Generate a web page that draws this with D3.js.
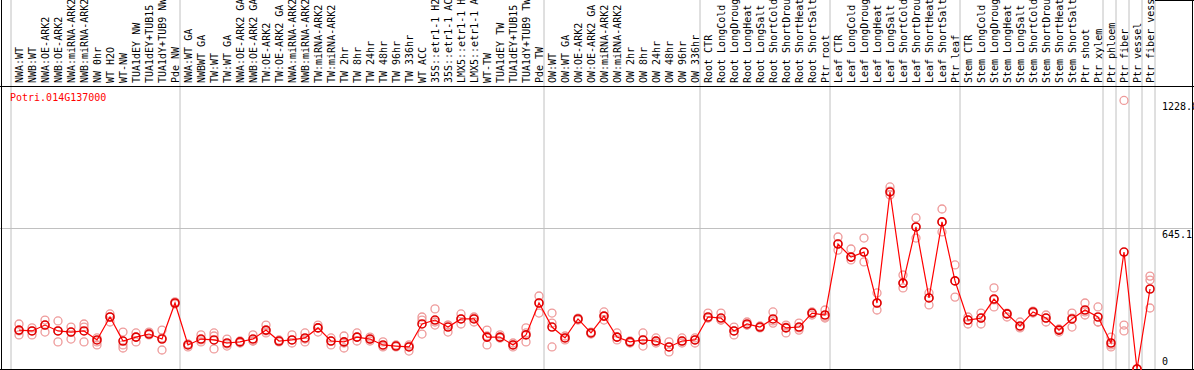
<!DOCTYPE html>
<html>
<head>
<meta charset="utf-8">
<script src="https://cdn.jsdelivr.net/npm/d3@7"></script>
<style>
  body { margin: 0; background: #fff; }
  svg text { font-family: "DejaVu Sans Mono", monospace; font-size: 10px; }
</style>
</head>
<body>
<div class="chart"></div>
<script>
// gene shown in the plot
var geneId = "Potri.014G137000"

// sample names, in plotting order
var sampleLabels = [
  "NWA:WT", "NWB:WT", "NWA:OE-ARK2", "NWB:OE-ARK2", "NWA:miRNA-ARK2", "NWB:miRNA-ARK2",
  "NW 0hr", "WT H2O", "WT-NW", "TUA1dEY NW", "TUA1dEY+TUB15 NW", "TUA1dY+TUB9 NW", "Pde NW",
  "NWA:WT GA", "NWBWT GA", "TW:WT", "TW:WT GA", "NWA:OE-ARK2 GA", "NWB:OE-ARK2 GA",
  "TW:OE-ARK2", "TW:OE-ARK2 GA", "NWA:miRNA-ARK2", "NWB:miRNA-ARK2", "TW:miRNA-ARK2", "TW:miRNA-ARK2",
  "TW 2hr", "TW 8hr", "TW 24hr", "TW 48hr", "TW 96hr", "TW 336hr", "WT ACC",
  "35S::etr1-1 H2O", "35S::etr1-1 ACC", "LMX5::etr1-1 H2O", "LMX5::etr1-1 ACC",
  "WT-TW", "TUA1dEY TW", "TUA1dEY+TUB15 TW", "TUA1dY+TUB9 TW", "Pde TW",
  "OW:WT", "OW:WT GA", "OW:OE-ARK2", "OW:OE-ARK2 GA", "OW:miRNA-ARK2", "OW:miRNA-ARK2",
  "OW 2hr", "OW 8hr", "OW 24hr", "OW 48hr", "OW 96hr", "OW 336hr",
  "Root CTR", "Root LongCold", "Root LongDrought", "Root LongHeat", "Root LongSalt",
  "Root ShortCold", "Root ShortDrought", "Root ShortHeat", "Root ShortSalt", "Ptr root",
  "Leaf CTR", "Leaf LongCold", "Leaf LongDrought", "Leaf LongHeat", "Leaf LongSalt",
  "Leaf ShortCold", "Leaf ShortDrought", "Leaf ShortHeat", "Leaf ShortSalt", "Ptr leaf",
  "Stem CTR", "Stem LongCold", "Stem LongDrought", "Stem LongHeat", "Stem LongSalt",
  "Stem ShortCold", "Stem ShortDrought", "Stem ShortHeat", "Stem ShortSalt", "Ptr shoot", "Ptr xylem",
  "Ptr phloem", "Ptr fiber", "Ptr vessel", "Ptr fiber vessel"
]

// how many samples sit in each block between grey separators
var groupSizes = [13, 28, 12, 10, 10, 11, 1, 1, 1, 1]

// mean expression per sample
var meanValues = [
  178, 174, 201, 174, 169, 174, 133, 238, 128, 146, 160, 137, 302,
  110, 137, 133, 119, 124, 137, 178, 128, 133, 142, 188, 128, 124, 146, 137, 110, 105, 101,
  206, 224, 192, 229, 229, 146, 146, 110, 156, 302,
  192, 142, 229, 165, 242, 146, 124, 133, 128, 101, 128, 133,
  238, 233, 174, 206, 192, 229, 188, 192, 256, 247,
  572, 512, 535, 302, 810, 393, 650, 325, 673, 403,
  224, 233, 320, 252, 197, 261, 233, 178, 229, 270, 238,
  119, 535, 0, 366
]

// replicate values per sample
var repValues = [
  [206, 156, 174], [188, 156, 174], [224, 169, 201], [220, 124, 174], [192, 137, 169],
  [206, 124, 192], [142, 110, 124], [252, 215, 238], [169, 110, 96], [165, 124, 146],
  [169, 156, 165], [178, 142, 87], [307, 297, 302],
  [114, 101, 114], [156, 133, 124], [165, 151, 92], [137, 114, 105], [124, 128, 119],
  [156, 128, 128], [201, 165, 174], [128, 133, 124], [156, 119, 133], [165, 124, 137],
  [201, 169, 188], [128, 110, 142], [119, 96, 151], [165, 128, 146], [137, 146, 128],
  [124, 101, 105], [105, 101, 110], [105, 82, 110], [238, 224, 160], [275, 201, 215],
  [201, 169, 201], [252, 206, 229], [238, 215, 233], [178, 110, 151], [156, 142, 142],
  [119, 101, 110], [188, 124, 165], [334, 256, 302],
  [256, 210, 101], [151, 133, 142], [229, 233, 224], [169, 160, 165], [261, 242, 224],
  [165, 133, 146], [124, 128, 119], [165, 105, 133], [142, 119, 128], [124, 78, 101],
  [142, 119, 128], [142, 119, 133],
  [256, 233, 233], [256, 224, 224], [192, 156, 174], [215, 201, 201], [192, 188, 197],
  [261, 210, 220], [201, 165, 192], [210, 178, 188], [256, 247, 261], [270, 238, 233],
  [604, 544, 572], [549, 499, 512], [599, 490, 535], [348, 270, 302], [833, 814, 796],
  [430, 371, 393], [691, 599, 650], [348, 293, 325], [732, 627, 673], [476, 329, 403],
  [238, 206, 224], [256, 206, 233], [371, 284, 316], [252, 238, 256], [215, 188, 192],
  [261, 256, 265], [215, 233, 247], [178, 169, 183], [256, 192, 233], [302, 247, 261],
  [284, 215, 215],
  [110, 101, 146], [1228.8, 201, 174], [0, 0, 0], [425, 407, 279]
]

// right hand axis
var yTickValues = [1228.8, 645.1, 0]
var yTickLabels = ["1228.8", "645.1", "0"]

// set the dimensions of the graph
var width = 1194,
    height = 370,
    plotLeft = 11,
    plotRight = 1155,
    headerBottom = 86,
    plotTop = 87,
    plotBottom = 369

var svg = d3.select(".chart")
  .append("svg")
    .attr("width", width)
    .attr("height", height)

var x = d3.scaleBand()
  .domain(d3.range(sampleLabels.length))
  .range([plotLeft, plotRight])

var yMax = d3.max(repValues.flat()) * 1.05
var y = d3.scaleLinear()
  .domain([0, yMax])
  .range([plotBottom, plotTop])

function cx(i) { return x(i) + x.bandwidth() / 2 + 1.5 }

// grey separators between the sample blocks
var edges = [0]
groupSizes.forEach(function(n) { edges.push(edges[edges.length - 1] + n) })
svg.selectAll(".sep")
  .data(edges)
  .enter()
  .append("line")
    .attr("x1", function(d) { return d < sampleLabels.length ? x(d) : plotRight })
    .attr("x2", function(d) { return d < sampleLabels.length ? x(d) : plotRight })
    .attr("y1", 0)
    .attr("y2", plotBottom)
    .attr("stroke", "#c0c0c0")
    .attr("stroke-width", 1)

// middle guide line
svg.append("line")
  .attr("x1", 0)
  .attr("x2", width - 1)
  .attr("y1", Math.round(y(yTickValues[1])) + 0.5)
  .attr("y2", Math.round(y(yTickValues[1])) + 0.5)
  .attr("stroke", "#c0c0c0")

// rotated sample names
svg.selectAll(".lbl")
  .data(sampleLabels)
  .enter()
  .append("text")
    .attr("transform", function(d, i) { return "translate(" + (cx(i) + 4) + "," + (headerBottom - 3) + ") rotate(-90)" })
    .attr("fill", "#000")
    .text(function(d) { return d })

// frame
svg.append("line").attr("x1", 0).attr("x2", width).attr("y1", headerBottom + 0.5).attr("y2", headerBottom + 0.5).attr("stroke", "#000")
svg.append("line").attr("x1", 0).attr("x2", width).attr("y1", plotBottom + 0.5).attr("y2", plotBottom + 0.5).attr("stroke", "#000")
svg.append("line").attr("x1", 1.5).attr("x2", 1.5).attr("y1", 0).attr("y2", height).attr("stroke", "#000")
svg.append("line").attr("x1", width - 1.5).attr("x2", width - 1.5).attr("y1", 0).attr("y2", height).attr("stroke", "#000")
svg.append("line").attr("x1", plotRight).attr("x2", width).attr("y1", 0.5).attr("y2", 0.5).attr("stroke", "#000")

// replicate circles
var reps = []
repValues.forEach(function(r, i) { r.forEach(function(v) { reps.push({ i: i, v: v }) }) })
svg.selectAll(".rep")
  .data(reps)
  .enter()
  .append("circle")
    .attr("cx", function(d) { return cx(d.i) })
    .attr("cy", function(d) { return y(d.v) })
    .attr("r", 4)
    .attr("fill", "none")
    .attr("stroke", "#ee9a9a")
    .attr("stroke-width", 1.3)

// mean line
svg.append("path")
  .datum(meanValues)
  .attr("d", d3.line()
    .x(function(d, i) { return cx(i) })
    .y(function(d) { return y(d) }))
  .attr("fill", "none")
  .attr("stroke", "#ff0000")
  .attr("stroke-width", 1.2)

svg.selectAll(".mean")
  .data(meanValues)
  .enter()
  .append("circle")
    .attr("cx", function(d, i) { return cx(i) })
    .attr("cy", function(d) { return y(d) })
    .attr("r", 4)
    .attr("fill", "none")
    .attr("stroke", "#e00000")
    .attr("stroke-width", 1.6)

// axis labels on the right
svg.selectAll(".ytick")
  .data(yTickValues)
  .enter()
  .append("text")
    .attr("x", 1162)
    .attr("y", function(d, i) { return d === 0 ? plotBottom - 4 : y(d) + 10 })
    .attr("fill", "#000")
    .text(function(d, i) { return yTickLabels[i] })

// gene id
svg.append("text")
  .attr("x", 10)
  .attr("y", 101)
  .attr("fill", "#ff0000")
  .text(geneId)
</script>
</body>
</html>
